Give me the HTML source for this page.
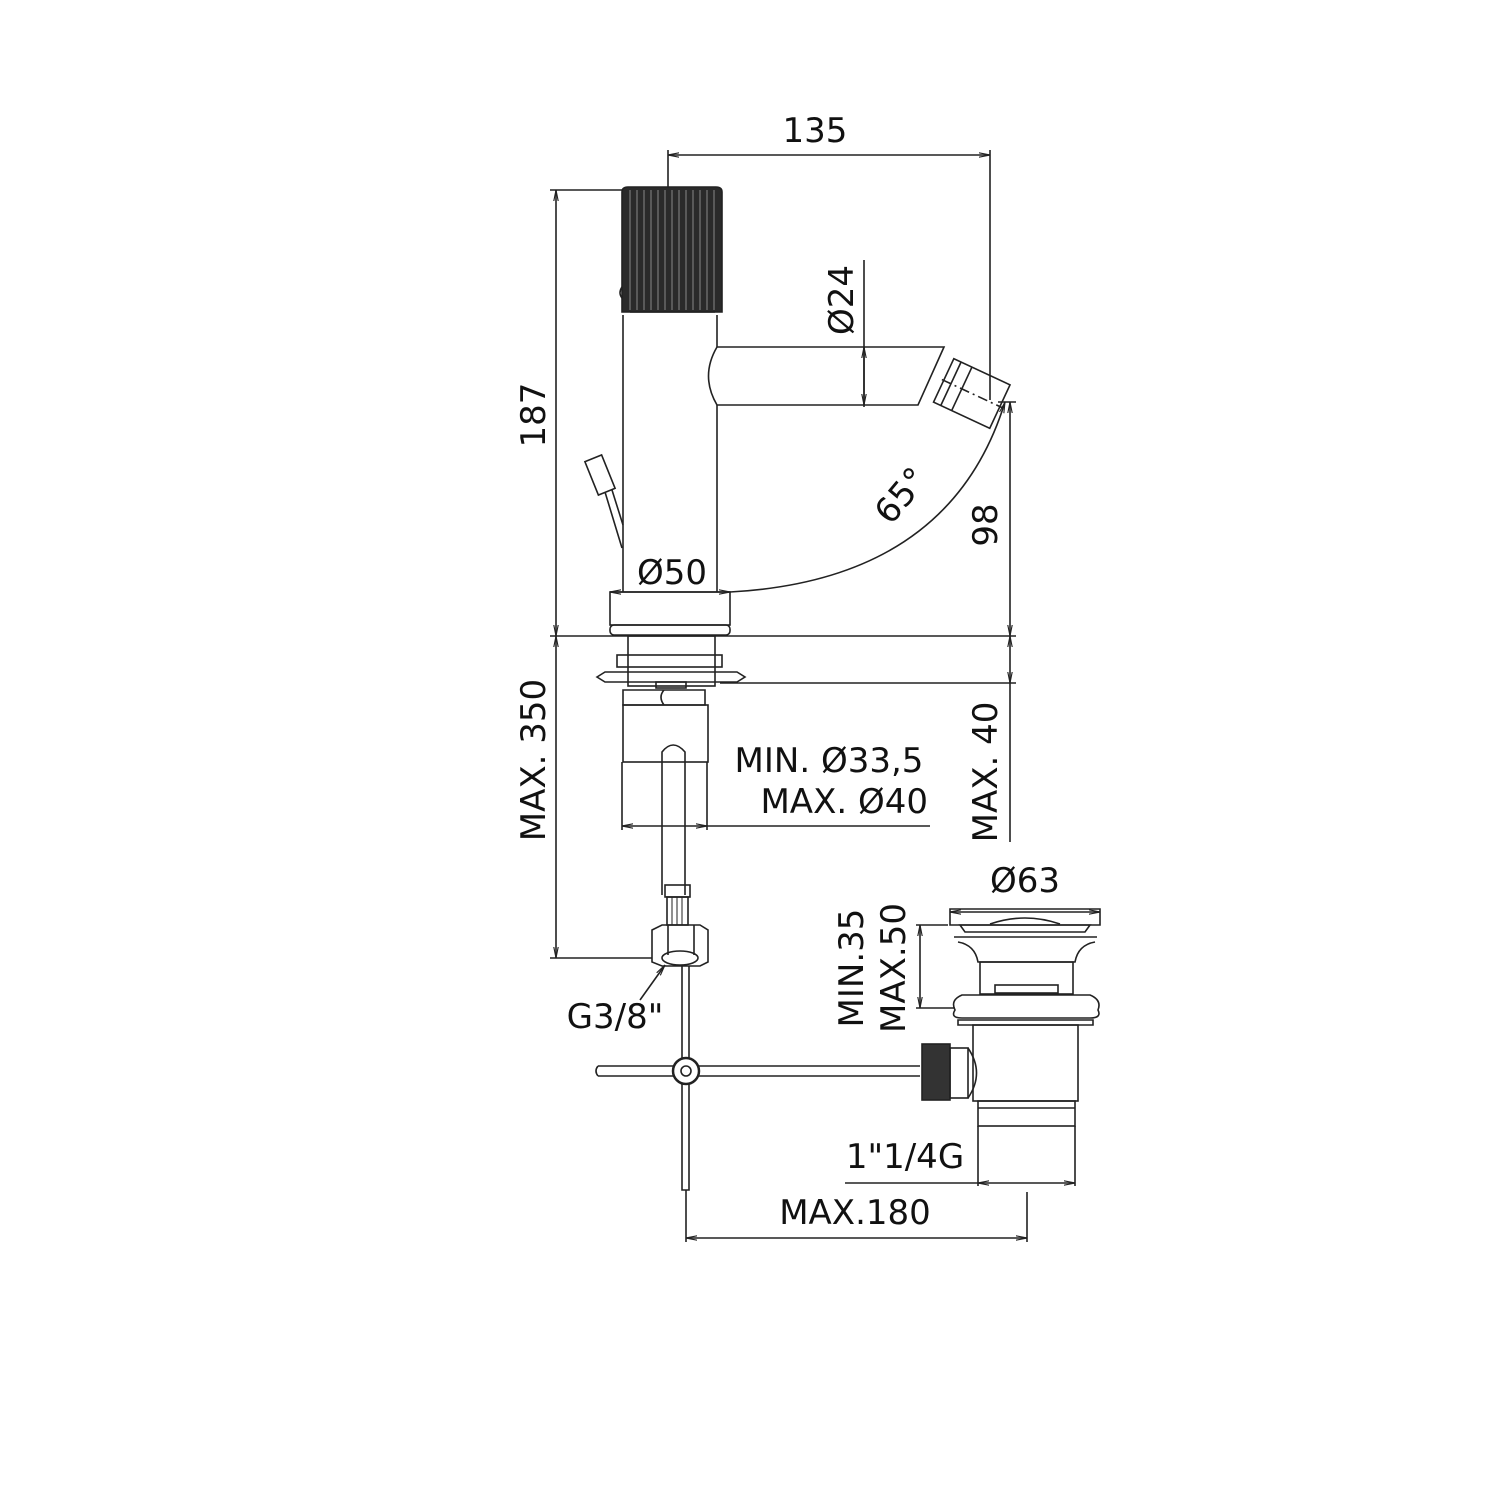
<!DOCTYPE html>
<html><head><meta charset="utf-8"><style>
html,body{margin:0;padding:0;background:#fff}
svg{display:block}
text{font-family:"DejaVu Sans","Liberation Sans",sans-serif;fill:#111}
</style></head><body>
<svg width="1500" height="1500" viewBox="0 0 1500 1500" xmlns="http://www.w3.org/2000/svg">
<defs>
<marker id="a" viewBox="0 0 10 10" refX="10" refY="5" markerWidth="7" markerHeight="7" orient="auto-start-reverse"><path d="M0,3 L10,5 L0,7" fill="none" stroke="#222" stroke-width="1"/></marker>
</defs>
<g stroke="#222" stroke-width="1.6" fill="none">
<line x1="668" y1="155" x2="990" y2="155" marker-start="url(#a)" marker-end="url(#a)"/>
<line x1="668" y1="150" x2="668" y2="187"/>
<line x1="990" y1="150" x2="990" y2="400"/>
<line x1="556" y1="190" x2="556" y2="636" marker-start="url(#a)" marker-end="url(#a)"/>
<line x1="550" y1="190" x2="622" y2="190"/>
<path d="M622,312 L622,192 Q622,187 628,187 L716,187 Q722,187 722,192 L722,312 Z" fill="#2a2a2a"/>
<g stroke="#888" stroke-width="1">
<line x1="630" y1="190" x2="630" y2="310"/><line x1="637" y1="190" x2="637" y2="310"/><line x1="644" y1="190" x2="644" y2="310"/><line x1="651" y1="190" x2="651" y2="310"/><line x1="658" y1="190" x2="658" y2="310"/><line x1="665" y1="190" x2="665" y2="310"/><line x1="672" y1="190" x2="672" y2="310"/><line x1="679" y1="190" x2="679" y2="310"/><line x1="686" y1="190" x2="686" y2="310"/><line x1="693" y1="190" x2="693" y2="310"/><line x1="700" y1="190" x2="700" y2="310"/><line x1="707" y1="190" x2="707" y2="310"/><line x1="714" y1="190" x2="714" y2="310"/>
</g>
<path d="M622,287 Q618,293 622,298"/>
<line x1="630" y1="312" x2="715" y2="312"/>
<line x1="623" y1="315" x2="623" y2="592"/>
<line x1="717" y1="315" x2="717" y2="347"/>
<line x1="717" y1="405" x2="717" y2="592"/>
<path d="M717,347 L944,347 L918,405 L717,405 Q700,376 717,347"/>
<g transform="translate(960,388) rotate(25)">
<rect x="-18" y="-24" width="62" height="48"/>
<line x1="-10" y1="-24" x2="-10" y2="24"/><line x1="2" y1="-24" x2="2" y2="24"/>
<line x1="-20" y1="0" x2="48" y2="0" stroke-dasharray="10,4,2,4"/>
</g>
<line x1="864" y1="260" x2="864" y2="407" />
<line x1="864" y1="347" x2="864" y2="405" marker-start="url(#a)" marker-end="url(#a)"/>
<g transform="translate(600,475) rotate(-22)"><rect x="-9" y="-18" width="18" height="36"/></g>
<path d="M605,492 L622,548 M612,490 L623,525"/>
<path d="M730,592 Q950,580 1005,402" marker-end="url(#a)"/>
<line x1="1010" y1="402" x2="1010" y2="636" marker-start="url(#a)" marker-end="url(#a)"/>
<line x1="998" y1="402" x2="1016" y2="402"/>
<rect x="610" y="592" width="120" height="33"/>
<line x1="610" y1="592" x2="730" y2="592" marker-start="url(#a)" marker-end="url(#a)"/>
<rect x="610" y="625" width="120" height="10" rx="4"/>
<line x1="550" y1="636" x2="1016" y2="636"/>
<rect x="628" y="636" width="87" height="50"/>
<rect x="617" y="655" width="105" height="12"/>
<path d="M597,677 L605,672 L737,672 L745,677 L737,682 L605,682 Z"/>
<line x1="720" y1="683" x2="1016" y2="683"/>
<line x1="1010" y1="636" x2="1010" y2="683" marker-start="url(#a)" marker-end="url(#a)"/>
<rect x="656" y="682" width="30" height="6"/>
<path d="M623,690 L705,690 L705,705 L623,705 Z M664,690 Q658,697 664,705"/>
<rect x="623" y="705" width="85" height="57"/>
<path d="M662,895 L662,752 Q673,738 685,752 L685,895"/>
<line x1="622" y1="762" x2="622" y2="830"/>
<line x1="707" y1="762" x2="707" y2="830"/>
<line x1="622" y1="826" x2="707" y2="826" marker-start="url(#a)" marker-end="url(#a)"/>
<line x1="707" y1="826" x2="930" y2="826"/>
<line x1="1010" y1="683" x2="1010" y2="842"/>
<line x1="556" y1="636" x2="556" y2="958" marker-start="url(#a)" marker-end="url(#a)"/>
<line x1="550" y1="958" x2="652" y2="958"/>
<rect x="665" y="885" width="25" height="12"/>
<rect x="667" y="897" width="21" height="28"/>
<g stroke-width="1"><line x1="672" y1="897" x2="672" y2="925"/><line x1="677" y1="897" x2="677" y2="925"/><line x1="682" y1="897" x2="682" y2="925"/></g>
<path d="M652,930 L662,925 L700,925 L708,930 L708,962 L700,966 L662,966 L652,962 Z"/>
<line x1="668" y1="925" x2="668" y2="955"/><line x1="694" y1="925" x2="694" y2="955"/>
<ellipse cx="680" cy="958" rx="18" ry="7"/>
<line x1="640" y1="1000" x2="665" y2="965" marker-end="url(#a)"/>
<path d="M682,966 L682,1190 L689,1190 L689,966"/>
<path d="M598,1066 L920,1066 M598,1076 L920,1076 M598,1066 Q594,1071 598,1076"/>
<circle cx="686" cy="1071" r="13" fill="#fff" stroke-width="2.5"/>
<circle cx="686" cy="1071" r="5"/>
<path d="M950,909 L1100,909 L1100,925 L950,925 Z"/>
<path d="M990,924 Q1025,912 1060,924"/>
<path d="M960,925 L1090,925 L1085,932 L965,932 Z"/>
<path d="M954,937 L1097,937 M958,942 Q975,945 978,962 L1075,962 Q1078,945 1095,942"/>
<rect x="980" y="962" width="93" height="32"/>
<rect x="995" y="985" width="63" height="8"/>
<path d="M955,1010 Q950,1000 962,995 L1090,995 Q1102,1000 1098,1010 Q1102,1018 1090,1018 L962,1018 Q950,1018 955,1010 Z"/>
<path d="M958,1020 L1093,1020 L1093,1025 L958,1025 Z"/>
<rect x="973" y="1025" width="105" height="76"/>
<rect x="978" y="1101" width="97" height="25"/>
<line x1="978" y1="1108" x2="1075" y2="1108"/>
<rect x="922" y="1044" width="28" height="56" fill="#333"/>
<rect x="950" y="1048" width="18" height="50"/>
<path d="M968,1048 Q985,1073 968,1098"/>
<line x1="950" y1="912" x2="1100" y2="912" marker-start="url(#a)" marker-end="url(#a)"/>
<line x1="916" y1="925" x2="948" y2="925"/>
<line x1="916" y1="1008" x2="955" y2="1008"/>
<line x1="920" y1="925" x2="920" y2="1008" marker-start="url(#a)" marker-end="url(#a)"/>
<line x1="978" y1="1126" x2="978" y2="1186"/>
<line x1="1075" y1="1126" x2="1075" y2="1186"/>
<line x1="978" y1="1183" x2="1075" y2="1183" marker-start="url(#a)" marker-end="url(#a)"/>
<line x1="845" y1="1183" x2="978" y2="1183"/>
<line x1="1027" y1="1192" x2="1027" y2="1242"/>
<line x1="686" y1="1190" x2="686" y2="1242"/>
<line x1="686" y1="1238" x2="1027" y2="1238" marker-start="url(#a)" marker-end="url(#a)"/>
</g>
<g font-size="34">
<text x="815" y="142" text-anchor="middle">135</text>
<text x="672" y="584" text-anchor="middle">Ø50</text>
<text x="829" y="772" text-anchor="middle">MIN. Ø33,5</text>
<text x="928" y="813" text-anchor="end">MAX. Ø40</text>
<text x="1025" y="892" text-anchor="middle">Ø63</text>
<text x="615" y="1028" text-anchor="middle">G3/8"</text>
<text x="905" y="1168" text-anchor="middle">1"1/4G</text>
<text x="855" y="1224" text-anchor="middle">MAX.180</text>
<text transform="translate(545,415) rotate(-90)" text-anchor="middle">187</text>
<text transform="translate(853,300) rotate(-90)" text-anchor="middle">Ø24</text>
<text transform="translate(997,525) rotate(-90)" text-anchor="middle">98</text>
<text transform="translate(545,760) rotate(-90)" text-anchor="middle">MAX. 350</text>
<text transform="translate(997,772) rotate(-90)" text-anchor="middle">MAX. 40</text>
<text transform="translate(863,968) rotate(-90)" text-anchor="middle">MIN.35</text>
<text transform="translate(905,968) rotate(-90)" text-anchor="middle">MAX.50</text>
<text transform="translate(910,503) rotate(-50)" text-anchor="middle">65°</text>
</g>
</svg>
</body></html>
